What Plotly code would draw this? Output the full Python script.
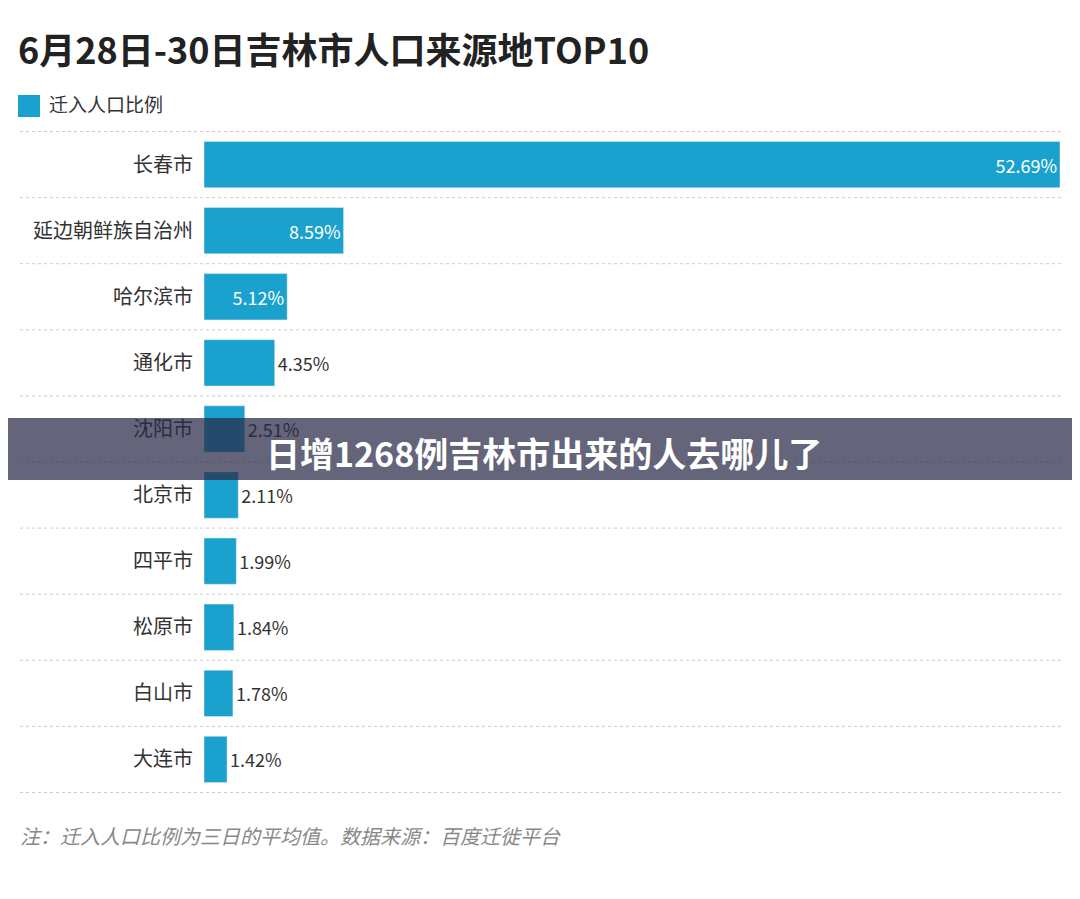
import plotly.graph_objects as go

cities = ["长春市", "延边朝鲜族自治州", "哈尔滨市", "通化市", "沈阳市", "北京市", "四平市", "松原市", "白山市", "大连市"]
values = [52.69, 8.59, 5.12, 4.35, 2.51, 2.11, 1.99, 1.84, 1.78, 1.42]
labels = [f"{v:.2f}%" for v in values]

OFF = 8  # page body margin
W, H = 1080 - 2 * OFF, 899 - 2 * OFF
L, R, T, B = 204 - OFF, 1080 - 1060 - OFF, 131 - OFF, 899 - 793 - OFF
pw, ph = W - L - R, H - T - B
def px(x): return (x - OFF - L) / pw
def py(y): return (H - B - (y - OFF)) / ph

color = "#1ba1cd"
fig = go.Figure(go.Bar(
    x=values, y=cities, orientation="h", marker_color=color,
    text=labels,
    textposition=["inside" if v > 5 else "outside" for v in values],
    insidetextanchor="end",
    textfont=dict(size=18, family="Noto Sans CJK SC"),
    insidetextfont=dict(color="white", size=18),
    outsidetextfont=dict(color="#333333", size=18),
    cliponaxis=False, name="迁入人口比例",
))

shapes = []
for i in range(len(cities) + 1):
    shapes.append(dict(type="line", xref="paper", yref="y", x0=px(20), x1=px(1062),
                       y0=i - 0.5, y1=i - 0.5, line=dict(color="#cccccc", width=1, dash="dot"), layer="below"))
shapes.append(dict(type="rect", xref="paper", yref="paper", x0=px(18), x1=px(40), y0=py(95), y1=py(117),
                   fillcolor=color, line_width=0))
shapes.append(dict(type="rect", xref="paper", yref="paper", x0=px(0), x1=px(1080), y0=py(480), y1=py(418),
                   fillcolor="rgba(40,40,70,0.72)", line_width=0, layer="above"))

annotations = [
    dict(text="<b>6月28日-30日吉林市人口来源地TOP10</b>", xref="paper", yref="paper", x=px(16), y=py(48),
         xanchor="left", yanchor="middle", showarrow=False, font=dict(size=36, color="#222222")),
    dict(text="迁入人口比例", xref="paper", yref="paper", x=px(47), y=py(104),
         xanchor="left", yanchor="middle", showarrow=False, font=dict(size=19, color="#333333")),
    dict(text="<i>注：迁入人口比例为三日的平均值。数据来源：百度迁徙平台</i>", xref="paper", yref="paper", x=px(18), y=py(835),
         xanchor="left", yanchor="middle", showarrow=False, font=dict(size=20, color="#888888")),
    dict(text="<b>日增1268例吉林市出来的人去哪儿了</b>", xref="paper", yref="paper", x=px(544), y=py(452),
         xanchor="center", yanchor="middle", showarrow=False, font=dict(size=34, color="white")),
]

fig.update_layout(
    width=W, height=H, margin=dict(l=L, r=R, t=T, b=B),
    paper_bgcolor="white", plot_bgcolor="white", showlegend=False,
    font=dict(family="Noto Sans CJK SC", color="#333333"),
    bargap=0.3,
    xaxis=dict(range=[0, 52.69], visible=False),
    yaxis=dict(autorange="reversed", showgrid=False, ticks="", ticklabelstandoff=10,
               tickfont=dict(size=20, color="#333333")),
    shapes=shapes, annotations=annotations,
)
fig.write_html("out.html")
